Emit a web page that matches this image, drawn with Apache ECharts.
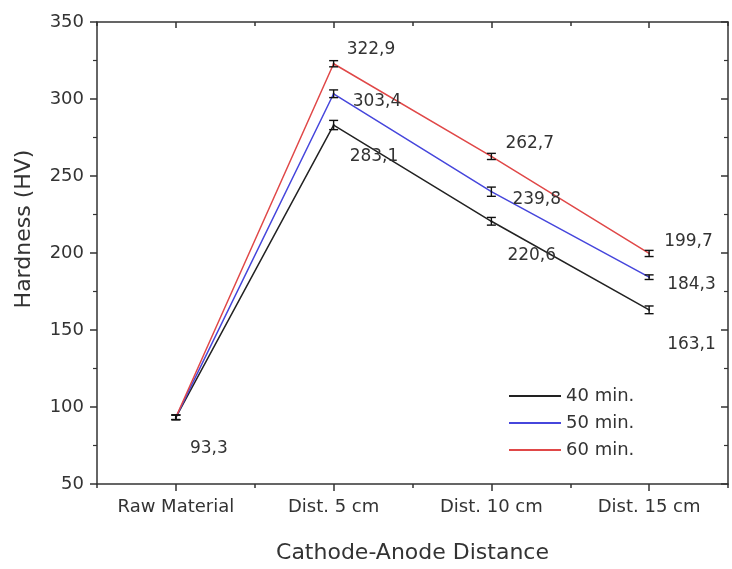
<!DOCTYPE html>
<html lang="en">
<head>
    <meta charset="UTF-8">
    <title>Hardness</title>
    <script src="https://cdn.jsdelivr.net/npm/echarts@6/dist/echarts.min.js"></script>
    <style type="text/css">
        html, body { margin: 0; padding: 0; background: #fff; }
        #chart { width: 732px; height: 569px; }
    </style>
</head>
<body>
<div id="chart"></div>
<script type="text/javascript">
    // data
    var categories = ['Raw Material', 'Dist. 5 cm', 'Dist. 10 cm', 'Dist. 15 cm'];
    var h40 = [93.3, 283.1, 220.6, 163.1];
    var h50 = [93.3, 303.4, 239.8, 184.3];
    var h60 = [93.3, 322.9, 262.7, 199.7];
    var err40 = [1.5, 3, 2.5, 2.5];
    var err50 = [1.5, 2.5, 3, 1.5];
    var err60 = [1.5, 2, 2, 2];
    var yTicks = { min: 50, max: 350, step: 50 };

    // where each value label sits next to its point (px)
    var shift40 = [[8, 31], [10, 32], [10, 34], [12, 35]];
    var shift50 = [null, [13, 8], [15, 8], [12, 7]];
    var shift60 = [null, [7, -14], [8, -13], [9, -12]];

    var font = 'DejaVu Sans';
    var textColor = '#333';
    var axisColor = '#333';

    function fmt(v) {
        return v.toFixed(1).replace('.', ',');
    }

    function lineData(values, shifts) {
        return values.map(function (v, i) {
            var s = shifts[i];
            return {
                value: v,
                label: s ? { show: true, position: 'right', offset: s } : { show: false }
            };
        });
    }

    function errData(values, errs) {
        return values.map(function (v, i) {
            return [i, v - errs[i], v + errs[i]];
        });
    }

    function lineSeries(name, color, values, shifts) {
        return {
            name: name,
            type: 'line',
            symbol: 'circle',
            symbolSize: 2,
            color: color,
            lineStyle: { width: 1.5, color: color },
            itemStyle: { color: color },
            label: {
                formatter: function (p) { return fmt(p.value); },
                fontFamily: font,
                fontSize: 17,
                color: textColor
            },
            emphasis: { disabled: true },
            z: 3,
            data: lineData(values, shifts)
        };
    }

    function errSeries(values, errs) {
        return {
            type: 'custom',
            z: 4,
            silent: true,
            encode: { x: 0, y: [1, 2] },
            renderItem: function (params, api) {
                var lo = api.coord([api.value(0), api.value(1)]);
                var hi = api.coord([api.value(0), api.value(2)]);
                var w = 4.5;
                var st = { stroke: '#111', lineWidth: 1.4 };
                return {
                    type: 'group',
                    children: [
                        { type: 'line', shape: { x1: lo[0], y1: lo[1], x2: hi[0], y2: hi[1] }, style: st },
                        { type: 'line', shape: { x1: lo[0] - w, y1: lo[1], x2: lo[0] + w, y2: lo[1] }, style: st },
                        { type: 'line', shape: { x1: hi[0] - w, y1: hi[1], x2: hi[0] + w, y2: hi[1] }, style: st }
                    ]
                };
            },
            data: errData(values, errs)
        };
    }

    function catAxis(pos, showLine, centerTicks, inside, len, extra) {
        var ax = {
            type: 'category',
            position: pos,
            data: categories,
            boundaryGap: true,
            axisLine: { show: showLine, lineStyle: { color: axisColor, width: 1.5 } },
            axisTick: {
                show: true,
                alignWithLabel: centerTicks,
                inside: inside,
                length: len,
                lineStyle: { color: axisColor, width: 1.5 }
            },
            axisLabel: { show: false },
            splitLine: { show: false }
        };
        for (var k in extra) ax[k] = extra[k];
        return ax;
    }

    function valAxis(pos, inside, extra) {
        var ax = {
            type: 'value',
            position: pos,
            min: yTicks.min,
            max: yTicks.max,
            interval: yTicks.step,
            axisLine: { show: true, lineStyle: { color: axisColor, width: 1.5 } },
            axisTick: { show: true, inside: inside, length: 7, lineStyle: { color: axisColor, width: 1.5 } },
            minorTick: { show: true, splitNumber: 2, length: 4, lineStyle: { color: axisColor, width: 1.2 } },
            axisLabel: { show: false },
            splitLine: { show: false },
            minorSplitLine: { show: false }
        };
        for (var k in extra) ax[k] = extra[k];
        return ax;
    }

    var chart = echarts.init(document.getElementById('chart'));
    var option = {
        backgroundColor: '#fff',
        animation: false,
        grid: { left: 97, right: 4, top: 22, bottom: 80, containLabel: false },
        legend: {
            orient: 'vertical',
            left: 504,
            top: 382,
            icon: 'rect',
            itemWidth: 52,
            itemHeight: 2,
            itemGap: 9,
            textStyle: { fontFamily: font, fontSize: 18, color: textColor, lineHeight: 18 },
            data: ['40 min.', '50 min.', '60 min.']
        },
        xAxis: [
            catAxis('bottom', true, true, false, 7, {
                name: 'Cathode-Anode Distance',
                nameLocation: 'middle',
                nameGap: 58,
                nameTextStyle: { fontFamily: font, fontSize: 22, color: textColor },
                axisLabel: { show: true, margin: 14, fontFamily: font, fontSize: 18, color: textColor }
            }),
            catAxis('bottom', false, false, false, 4, {}),
            catAxis('top', true, true, true, 6, {}),
            catAxis('top', false, false, true, 4, {})
        ],
        yAxis: [
            valAxis('left', false, {
                name: 'Hardness (HV)',
                nameLocation: 'middle',
                nameGap: 62,
                nameTextStyle: { fontFamily: font, fontSize: 22, color: textColor, padding: [0, 0, 0, 48] },
                axisLabel: { show: true, margin: 13, fontFamily: font, fontSize: 18, color: textColor }
            }),
            valAxis('right', true, {})
        ],
        series: [
            lineSeries('40 min.', '#222222', h40, shift40),
            lineSeries('50 min.', '#4646dc', h50, shift50),
            lineSeries('60 min.', '#e04848', h60, shift60),
            errSeries(h40, err40),
            errSeries(h50, err50),
            errSeries(h60, err60)
        ]
    };
    chart.setOption(option);
</script>
</body>
</html>
